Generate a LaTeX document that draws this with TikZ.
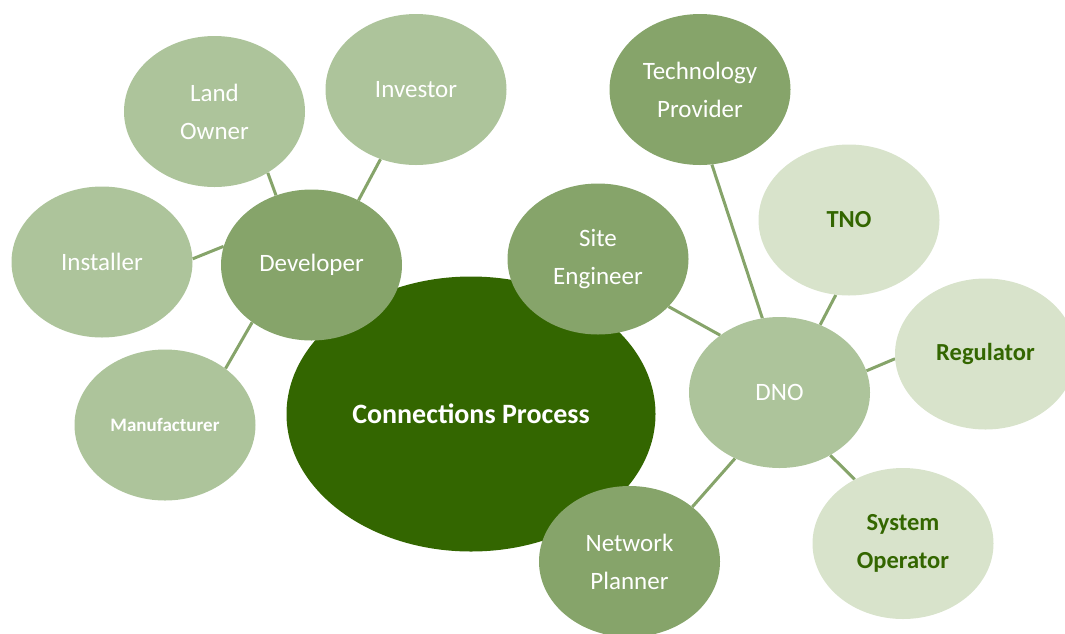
\documentclass[tikz,border=0pt]{standalone}
\usepackage{fontspec}
\setmainfont{Carlito}
\usetikzlibrary{backgrounds,shapes.geometric}
\definecolor{deepgreen}{HTML}{336600}
\definecolor{midgreen}{HTML}{86A46A}
\definecolor{softgreen}{HTML}{ADC49B}
\definecolor{palegreen}{HTML}{D8E3CB}
\tikzset{
  bubble/.style={ellipse, minimum width=181pt, minimum height=151pt, inner sep=0pt,
    align=center, font=\fontsize{25}{38}\selectfont},
  hub/.style={bubble, fill=midgreen, text=white},
  outer/.style={bubble, fill=softgreen, text=white},
  faint/.style={bubble, fill=palegreen, text=deepgreen, font=\fontsize{24.5}{38}\selectfont\bfseries},
  core/.style={ellipse, fill=deepgreen, text=white, minimum width=369pt, minimum height=275pt,
    font=\fontsize{28}{32}\selectfont\bfseries},
  link/.style={draw=midgreen, line width=3pt}
}
\begin{document}
\begin{tikzpicture}[x=1pt,y=-1pt]
  \useasboundingbox (0,0) rectangle (1065,633);
  \clip (0,0) rectangle (1065,633);
  % central process
  \node[core] (proc) at (471,414) {Connections Process};
  % developer cluster
  \node[hub] (dev) at (311.5,265) {Developer};
  \node[outer] (land) at (214.5,111.5) {Land\\Owner};
  \node[outer] (inv) at (416,89.5) {Investor};
  \node[outer] (inst) at (102,262) {Installer};
  \node[outer, font=\fontsize{19}{22}\selectfont\bfseries] (manu) at (165,425) {Manufacturer};
  % network operator cluster
  \node[outer] (dno) at (779.5,392.5) {DNO};
  \node[hub] (site) at (598,259) {Site\\Engineer};
  \node[hub] (tech) at (700,89.5) {Technology\\Provider};
  \node[hub] (plan) at (629.5,561.5) {Network\\Planner};
  \node[faint] (tno) at (849,220) {TNO};
  \node[faint] (reg) at (985.5,354) {Regulator};
  \node[faint] (sysop) at (903,543.5) {System\\Operator};
  % connectors behind the bubbles, border to border
  \begin{scope}[on background layer]
    \draw[link] (dev.117.5) -- (land.-49);
    \draw[link] (dev.54.7)  -- (inv.243.6);
    \draw[link] (dev.168.5) -- (inst.2.5);
    \draw[link] (dev.224.8) -- (manu.43.8);
    \draw[link] (dno.103)   -- (tech.-81.7);
    \draw[link] (dno.59.6)  -- (tno.260.2);
    \draw[link] (dno.136.2) -- (site.-34);
    \draw[link] (dno.14.3)  -- (reg.183.8);
    \draw[link] (dno.-51.5) -- (sysop.127.7);
    \draw[link] (dno.236.1) -- (plan.41.8);
  \end{scope}
\end{tikzpicture}
\end{document}
